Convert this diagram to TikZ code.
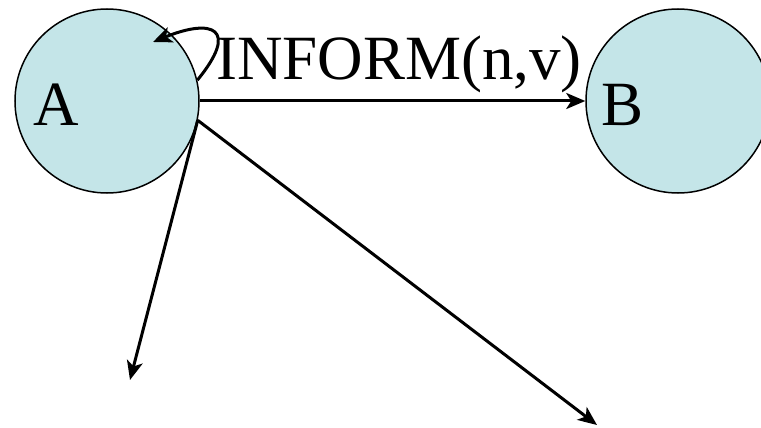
\documentclass[tikz,border=0pt]{standalone}
\usepackage{fontspec}
\setmainfont{Liberation Serif}
\usetikzlibrary{arrows.meta}
\definecolor{agentfill}{RGB}{196,229,232}

\begin{document}
\begin{tikzpicture}[x=1pt,y=-1pt,
  agent/.style={circle,draw,line width=1.5pt,fill=agentfill,minimum size=184pt,inner sep=0pt},
  tag/.style={anchor=base,font=\fontsize{63}{66}\selectfont,inner sep=0pt},
  msg/.style={line width=3pt,-{Stealth[length=19pt,width=16pt,inset=5pt]}}]
\useasboundingbox (0,0) rectangle (761,428);
\node[agent] (a) at (107,101) {};
\node[agent] (b) at (678,101) {};
\node[tag] (atxt) at (56,125) {A};
\node[tag] (btxt) at (623,125) {B};
\node[tag] (inform) at (399,80) {INFORM(n,v)};
\coordinate (self) at (153,42);
\coordinate (out1) at (130,380);\coordinate (out2) at (597,425);
\draw[msg] (a.east)--(b.west);
\draw[msg] (a.13) .. controls (240,28) and (212,18) .. (self);
\draw[msg] (a.-12)--(out1);\draw[msg] (a.-12)--(out2);
\end{tikzpicture}
\end{document}
